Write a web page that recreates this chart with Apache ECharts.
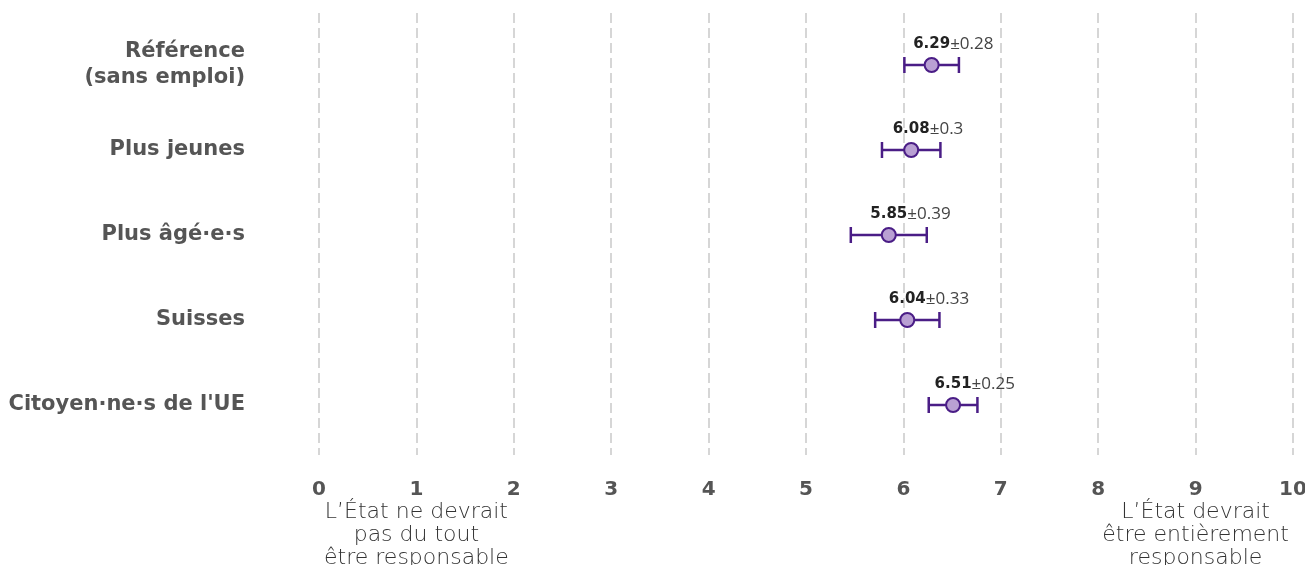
<!DOCTYPE html>
<html>
<head>
<meta charset="utf-8">
<script src="https://cdn.jsdelivr.net/npm/echarts@6/dist/echarts.min.js"></script>
<style>
html,body{margin:0;padding:0;background:#fff;}
#c{width:1305px;height:565px;}
</style>
</head>
<body>
<div id="c"></div>
<script>
const categories = ['Référence\n(sans emploi)', 'Plus jeunes', 'Plus âgé·e·s', 'Suisses', "Citoyen·ne·s de l'UE"];
const means = [6.29, 6.08, 5.85, 6.04, 6.51];
const errors = [0.28, 0.3, 0.39, 0.33, 0.25];
const xTicks = [0, 1, 2, 3, 4, 5, 6, 7, 8, 9, 10];
const lowLabel = ['L’État ne devrait', 'pas du tout', 'être responsable'];
const highLabel = ['L’État devrait', 'être entièrement', 'responsable'];

const LABEL_FONT = '"Open Sans", "Noto Sans", sans-serif';
const BOLD_FONT = '"DejaVu Sans", sans-serif';
const CAT_FONT = '"DejaVu Sans", Inter, sans-serif';
const PURPLE = '#4a1d86';
const FILL = '#b9a0d3';

const mctx = document.createElement('canvas').getContext('2d');
function textW(t, font) { mctx.font = font; return mctx.measureText(t).width; }

const chart = echarts.init(document.getElementById('c'), null, {renderer: 'canvas'});

const rows = categories.map((c, i) => [means[i], i, errors[i]]);

function fmtNum(v) { return String(v); }

const option = {
  animation: false,
  backgroundColor: '#fff',
  grid: [
    {left: 319, right: 12, top: 13, bottom: 110, containLabel: false, outerBoundsMode: 'none'},
    {left: 319, right: 12, top: 22.5, bottom: 117.5, containLabel: false, outerBoundsMode: 'none'}
  ],
  xAxis: [
    {
      gridIndex: 0, type: 'value', min: 0, max: 10, interval: 1,
      axisLine: {show: false}, axisTick: {show: false},
      splitLine: {show: true, lineStyle: {color: '#d6d6d6', width: 2, type: [10, 5]}},
      axisLabel: {
        margin: 25, color: '#555', showMaxLabel: true, showMinLabel: true, hideOverlap: false,
        fontFamily: CAT_FONT, fontWeight: 'bold', fontSize: 20
      }
    },
    {
      gridIndex: 0, type: 'value', min: 0, max: 10, interval: 1, position: 'bottom', offset: 0,
      axisLine: {show: false}, axisTick: {show: false}, splitLine: {show: false},
      axisLabel: {
        margin: 46, verticalAlign: 'top', showMaxLabel: true, showMinLabel: true, hideOverlap: false,
        color: '#333', fontFamily: '"DejaVu Sans"', fontWeight: 200, fontSize: 22, lineHeight: 23,
        formatter: function (v) {
          if (v === 1) return lowLabel.join('\n');
          if (v === 9) return highLabel.join('\n');
          return '';
        }
      }
    },
    {gridIndex: 1, type: 'value', min: 0, max: 10, show: false}
  ],
  yAxis: [
    {gridIndex: 0, type: 'value', min: 0, max: 1, show: false},
    {
      gridIndex: 1, type: 'category', data: categories, inverse: true,
      axisLine: {show: false}, axisTick: {show: false}, splitLine: {show: false},
      axisLabel: {
        margin: 74, color: '#555', fontFamily: CAT_FONT, fontWeight: 'bold',
        fontSize: 21, lineHeight: 26, align: 'right'
      }
    }
  ],
  series: [
    {
      type: 'custom', xAxisIndex: 2, yAxisIndex: 1,
      data: rows,
      renderItem: function (params, api) {
        const m = api.value(0), idx = api.value(1), e = api.value(2);
        const pL = api.coord([m - e, idx]);
        const pR = api.coord([m + e, idx]);
        const pC = api.coord([m, idx]);
        const cap = 8;
        const boldFont = 'bold 15px ' + BOLD_FONT;
        const bw = textW(fmtNum(m), boldFont);
        return {
          type: 'group',
          children: [
            {type: 'line', shape: {x1: pL[0], y1: pL[1], x2: pR[0], y2: pR[1]}, style: {stroke: PURPLE, lineWidth: 2.5}},
            {type: 'line', shape: {x1: pL[0], y1: pL[1] - cap, x2: pL[0], y2: pL[1] + cap}, style: {stroke: PURPLE, lineWidth: 2.5}},
            {type: 'line', shape: {x1: pR[0], y1: pR[1] - cap, x2: pR[0], y2: pR[1] + cap}, style: {stroke: PURPLE, lineWidth: 2.5}},
            {type: 'circle', shape: {cx: pC[0], cy: pC[1], r: 7}, style: {fill: FILL, stroke: PURPLE, lineWidth: 2}},
            {type: 'text', x: pC[0], y: pC[1] - 21, style: {text: fmtNum(m), font: boldFont, fill: '#222', align: 'center', verticalAlign: 'middle'}},
            {type: 'text', x: pC[0] + bw / 2, y: pC[1] - 21, style: {text: '±' + fmtNum(e), font: '17px ' + LABEL_FONT, fill: '#444', align: 'left', verticalAlign: 'middle'}}
          ]
        };
      }
    }
  ]
};
chart.setOption(option);
</script>
</body>
</html>
